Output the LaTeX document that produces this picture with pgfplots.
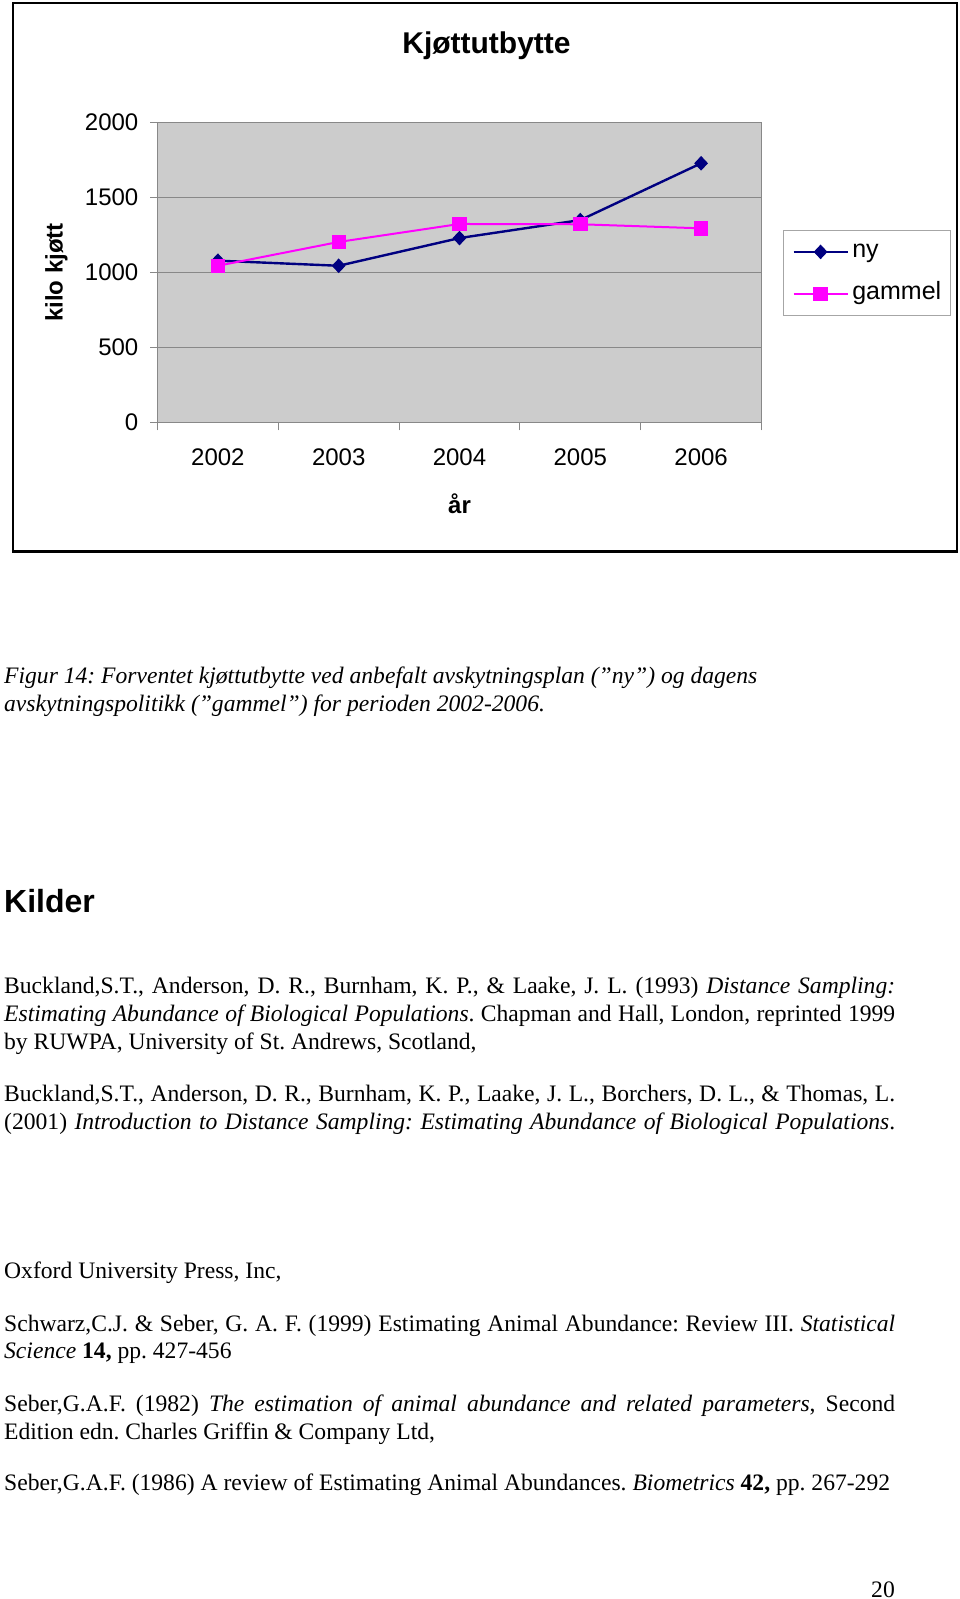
\documentclass[border=0pt]{standalone}
\usepackage{fontspec}
\setmainfont{Liberation Serif}
\newfontfamily\arial{Liberation Sans}
\usepackage{pgfplots}
\pgfplotsset{compat=1.18}
\definecolor{plotgray}{RGB}{204,204,204}
\definecolor{navycol}{RGB}{0,0,128}
\definecolor{magcol}{RGB}{255,0,255}
\definecolor{gridcol}{RGB}{136,136,136}
\newcommand\bodyfont{\fontsize{23.6}{27.5}\selectfont}
\frenchspacing
\begin{document}
\begin{tikzpicture}
\path[use as bounding box] (0,0) rectangle (960pt,-1599pt);
\draw[line width=2.3pt] (13pt,-2.8pt) rectangle (957pt,-551.5pt);
\node[anchor=base, inner sep=0pt, font=\arial\bfseries\fontsize{30}{30}\selectfont] at (486.5pt,-53.7pt) {Kjøttutbytte};
\begin{axis}[
  at={(157.5pt,-422.3pt)}, anchor=south west,
  scale only axis, width=604pt, height=299.6pt,
  xmin=-0.5, xmax=4.5, ymin=0, ymax=2000,
  xtick={0,1,2,3,4}, xticklabels={2002,2003,2004,2005,2006},
  major x tick style={draw=none},
  minor xtick={-0.5,0.5,1.5,2.5,3.5,4.5},
  ytick={0,500,1000,1500,2000}, yticklabels={0,500,1000,1500,2000},
  tick align=outside, tick pos=left,
  major tick length=7pt, minor tick length=8pt,
  tick style={gridcol, line width=1pt},
  ymajorgrids, grid style={gridcol, line width=1.2pt},
  axis background/.style={fill=plotgray},
  axis line style={gridcol, line width=1.3pt},
  /pgf/number format/assume math mode=true,
  ticklabel style={font=\arial\fontsize{24}{24}\selectfont, inner sep=0pt},
  yticklabel shift=12pt,
  xticklabel shift=19pt,
  xlabel={år}, ylabel={kilo kjøtt},
  label style={font=\arial\bfseries\fontsize{24}{24}\selectfont, inner sep=0pt},
  xlabel style={at={(axis description cs:0.5,-0.3027)}, anchor=base},
  ylabel style={at={(axis description cs:-0.1672,0.5)}, anchor=center},
  legend style={
    at={(axis description cs:1.0351,0.6419)}, anchor=north west,
    draw=gray!70, line width=0.8pt, fill=white,
    font=\arial\fontsize{25}{25}\selectfont,
    inner xsep=9.3pt, inner ysep=9.5pt,
    row sep=18pt, column sep=3.5pt,
    nodes={inner sep=0pt, text height=18pt, text depth=6pt},
    cells={anchor=west},
  },
  legend image code/.code={\draw[mark repeat=2, mark phase=2, #1] plot coordinates {(0pt,0pt) (27pt,0pt) (54pt,0pt)};},
]
\addplot[color=navycol, line width=2.4pt, mark=diamond*, mark size=6.6pt,
  mark options={solid, xscale=1.25, line width=1pt, fill=navycol}]
  coordinates {(0,1079) (1,1045) (2,1230) (3,1350) (4,1729)};
\addlegendentry{ny}
\addplot[color=magcol, line width=2pt, mark=square*, mark size=6.7pt,
  mark options={solid, line width=1pt, fill=magcol}]
  coordinates {(0,1045) (1,1204) (2,1324) (3,1322) (4,1295)};
\addlegendentry{gammel}
\end{axis}
% page text
\node[anchor=base west, inner sep=0pt, font=\bodyfont\itshape] at (4pt,-683.3pt) {Figur 14: Forventet kjøttutbytte ved anbefalt avskytningsplan (”ny”) og dagens};
\node[anchor=base west, inner sep=0pt, font=\bodyfont\itshape] at (4pt,-711.7pt) {avskytningspolitikk (”gammel”) for perioden 2002-2006.};
\node[anchor=base west, inner sep=0pt, font=\arial\bfseries\fontsize{32}{32}\selectfont] at (4pt,-912.5pt) {Kilder};
\node[anchor=base west, inner sep=0pt, font=\bodyfont] at (4pt,-993.5pt) {\makebox[891pt][s]{Buckland,S.T., Anderson, D. R., Burnham, K. P., \& Laake, J. L. (1993) \textit{Distance Sampling:}}};
\node[anchor=base west, inner sep=0pt, font=\bodyfont] at (4pt,-1021.5pt) {\makebox[891pt][s]{\textit{Estimating Abundance of Biological Populations}. Chapman and Hall, London, reprinted 1999}};
\node[anchor=base west, inner sep=0pt, font=\bodyfont] at (4pt,-1049pt) {by RUWPA, University of St. Andrews, Scotland,};
\node[anchor=base west, inner sep=0pt, font=\bodyfont] at (4pt,-1101pt) {\makebox[891pt][s]{Buckland,S.T., Anderson, D. R., Burnham, K. P., Laake, J. L., Borchers, D. L., \& Thomas, L.}};
\node[anchor=base west, inner sep=0pt, font=\bodyfont] at (4pt,-1129pt) {\makebox[891pt][s]{(2001) \textit{Introduction to Distance Sampling: Estimating Abundance of Biological Populations}.}};
\node[anchor=base west, inner sep=0pt, font=\bodyfont] at (4pt,-1278pt) {Oxford University Press, Inc,};
\node[anchor=base west, inner sep=0pt, font=\bodyfont] at (4pt,-1331pt) {\makebox[891pt][s]{Schwarz,C.J. \& Seber, G. A. F. (1999) Estimating Animal Abundance: Review III. \textit{Statistical}}};
\node[anchor=base west, inner sep=0pt, font=\bodyfont] at (4pt,-1358pt) {\textit{Science} \textbf{14,} pp. 427-456};
\node[anchor=base west, inner sep=0pt, font=\bodyfont] at (4pt,-1411.5pt) {\makebox[891pt][s]{Seber,G.A.F. (1982) \textit{The estimation of animal abundance and related parameters}, Second}};
\node[anchor=base west, inner sep=0pt, font=\bodyfont] at (4pt,-1439pt) {Edition edn. Charles Griffin \& Company Ltd,};
\node[anchor=base west, inner sep=0pt, font=\bodyfont] at (4pt,-1490pt) {Seber,G.A.F. (1986) A review of Estimating Animal Abundances. \textit{Biometrics} \textbf{42,} pp. 267-292};
\node[anchor=base east, inner sep=0pt, font=\bodyfont] at (895pt,-1597pt) {20};
\end{tikzpicture}
\end{document}
